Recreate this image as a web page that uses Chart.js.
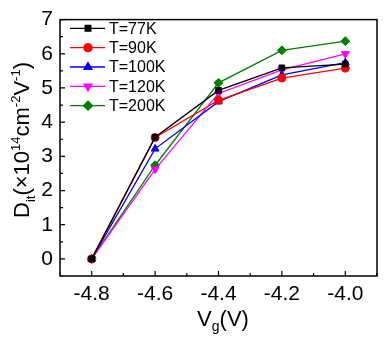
<!DOCTYPE html>
<html>
<head>
<meta charset="utf-8">
<script src="https://cdn.jsdelivr.net/npm/chart.js@4.4.1/dist/chart.umd.min.js"></script>
<style>
  html, body { margin: 0; padding: 0; background: #fff; }
  #wrap { width: 388px; height: 338px; }
</style>
</head>
<body>
<div id="wrap"><canvas id="myChart" width="388" height="338"></canvas></div>
<script>
// data
var vg = [-4.8, -4.6, -4.4, -4.2, -4.0];
var t77 = [0, 3.56, 4.93, 5.59, 5.70];
var t90 = [0, 3.55, 4.64, 5.29, 5.58];
var t100 = [0, 3.22, 4.60, 5.38, 5.74];
var t120 = [0, 2.62, 4.84, 5.53, 6.00];
var t200 = [0, 2.74, 5.15, 6.10, 6.37];
var xTicks = [-4.8, -4.6, -4.4, -4.2, -4.0];
var yTicks = [0, 1, 2, 3, 4, 5, 6, 7];

var FONT = 'Liberation Sans, Arial, sans-serif';

function pts(arr) {
  return arr.map(function (v, i) { return { x: vg[i], y: v }; });
}

function ds(label, arr, color, style, rot, r) {
  return {
    label: label,
    data: pts(arr),
    borderColor: color,
    backgroundColor: color,
    borderWidth: 1.3,
    pointStyle: style,
    rotation: rot || 0,
    pointRadius: r || 4,
    pointBorderWidth: 1,
    tension: 0
  };
}

// draws a run of [text, size, dy] pieces starting at x
function runText(c, parts, x, y) {
  parts.forEach(function (p) {
    c.font = p[1] + 'px ' + FONT;
    c.fillText(p[0], x, y + p[2]);
    x += c.measureText(p[0]).width;
  });
}
function runWidth(c, parts) {
  var w = 0;
  parts.forEach(function (p) { c.font = p[1] + 'px ' + FONT; w += c.measureText(p[0]).width; });
  return w;
}

// frame, inner ticks, axis titles and legend
var decor = {
  id: 'decor',
  afterDraw: function (chart) {
    var c = chart.ctx, a = chart.chartArea;
    var xs = chart.scales.x, ys = chart.scales.y;
    c.save();
    c.strokeStyle = '#000';
    c.lineWidth = 1.5;
    c.strokeRect(a.left, a.top, a.right - a.left, a.bottom - a.top);

    c.lineWidth = 1.2;
    c.beginPath();
    for (var v = -0.5; v <= 7.01; v += 0.5) {
      var y = ys.getPixelForValue(v);
      var len = Math.abs(v - Math.round(v)) < 0.01 ? 5 : 3;
      c.moveTo(a.left, y); c.lineTo(a.left + len, y);
    }
    for (var k = -49; k <= -39; k++) {
      var x = xs.getPixelForValue(k / 10);
      var ln = (k % 2 === 0) ? 5 : 3;
      c.moveTo(x, a.bottom); c.lineTo(x, a.bottom - ln);
    }
    c.stroke();

    c.fillStyle = '#000';
    c.textAlign = 'left';
    c.textBaseline = 'alphabetic';

    // x title: V_g(V)
    var xt = [['V', 22, 0], ['g', 14, 5], ['(V)', 22, 0]];
    runText(c, xt, 223 - runWidth(c, xt) / 2, 326);

    // y title: D_it(×10^14 cm^-2 V^-1)
    c.translate(29, 140);
    c.rotate(-Math.PI / 2);
    var yt = [
      ['D', 22, 0], ['it', 13, 6], ['(\u00d710', 22, 0], ['14', 13, -9],
      ['cm', 22, 0], ['-2', 13, -9], ['V', 22, 0], ['-1', 13, -9], [')', 22, 0]
    ];
    runText(c, yt, -runWidth(c, yt) / 2, 0);
    c.restore();

    // legend: line with marker, then label
    c.save();
    chart.data.datasets.forEach(function (d, i) {
      var ly = 28.3 + i * 19.35;
      c.strokeStyle = d.borderColor;
      c.lineWidth = 1.3;
      c.beginPath(); c.moveTo(70, ly); c.lineTo(105, ly); c.stroke();
      Chart.helpers.drawPoint(c, {
        pointStyle: d.pointStyle, rotation: d.rotation, radius: d.pointRadius, borderWidth: 1
      }, 88, ly);
      c.fillStyle = d.borderColor;
      c.fill();
      c.fillStyle = '#000';
      c.font = '16px ' + FONT;
      c.textAlign = 'left';
      c.textBaseline = 'middle';
      c.fillText(d.label, 109, ly + 1);
    });
    c.restore();
  }
};

var ctx = document.getElementById('myChart').getContext('2d');
var myChart = new Chart(ctx, {
  type: 'line',
  data: {
    datasets: [
      ds('T=77K', t77, '#000000', 'rect', 0, 4),
      ds('T=90K', t90, '#ff0000', 'circle', 0, 4),
      ds('T=100K', t100, '#0000ff', 'triangle', 0, 4.5),
      ds('T=120K', t120, '#ff00ff', 'triangle', 180, 4.5),
      ds('T=200K', t200, '#008000', 'rectRot', 0, 4.5)
    ]
  },
  options: {
    responsive: false,
    animation: false,
    layout: { padding: { left: 0, right: 11, top: 12, bottom: 0 } },
    plugins: { legend: { display: false }, tooltip: { enabled: false } },
    scales: {
      x: {
        type: 'linear',
        min: -4.9,
        max: -3.9,
        afterBuildTicks: function (s) { s.ticks = xTicks.map(function (v) { return { value: v }; }); },
        afterFit: function (s) { s.height = 62; },
        grid: { display: false, drawTicks: false },
        border: { display: false },
        ticks: {
          color: '#000',
          padding: 6,
          maxRotation: 0,
          font: { family: FONT, size: 21 },
          callback: function (v) { return v.toFixed(1); }
        }
      },
      y: {
        min: -0.5,
        max: 7,
        afterBuildTicks: function (s) { s.ticks = yTicks.map(function (v) { return { value: v }; }); },
        afterFit: function (s) { s.width = 60; },
        grid: { display: false, drawTicks: false },
        border: { display: false },
        ticks: {
          color: '#000',
          padding: 7,
          font: { family: FONT, size: 21 },
          callback: function (v) { return String(v); }
        }
      }
    }
  },
  plugins: [decor]
});
</script>
</body>
</html>
